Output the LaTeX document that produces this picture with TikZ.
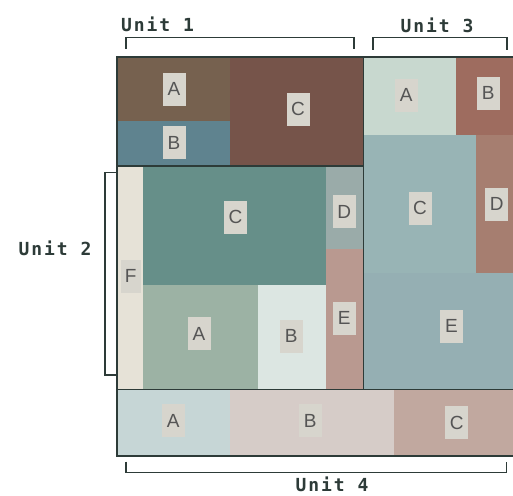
\documentclass[tikz,border=0pt]{standalone}
\usepackage{fontspec}
\setmainfont{Liberation Sans}
\newfontfamily\unitfont[LetterSpace=11]{DejaVu Sans Mono}
\usetikzlibrary{positioning}
\definecolor{frameline}{HTML}{2D3B38}
\definecolor{lblbox}{HTML}{D7D5CD}
\definecolor{lbltext}{HTML}{555555}
% unit 1
\definecolor{uoneA}{HTML}{76614F}
\definecolor{uoneB}{HTML}{5F838F}
\definecolor{uoneC}{HTML}{76544A}
% unit 2
\definecolor{utwoA}{HTML}{9CB2A4}
\definecolor{utwoB}{HTML}{DCE6E2}
\definecolor{utwoC}{HTML}{668F89}
\definecolor{utwoD}{HTML}{9AABA9}
\definecolor{utwoE}{HTML}{B99990}
\definecolor{utwoF}{HTML}{E6E2D7}
% unit 3
\definecolor{uthreeA}{HTML}{C8D8CF}
\definecolor{uthreeB}{HTML}{9E6C5F}
\definecolor{uthreeC}{HTML}{98B4B5}
\definecolor{uthreeD}{HTML}{A67E70}
\definecolor{uthreeE}{HTML}{95AFB3}
% unit 4
\definecolor{ufourA}{HTML}{C6D6D6}
\definecolor{ufourB}{HTML}{D6CCC8}
\definecolor{ufourC}{HTML}{C1A89F}

\begin{document}
\begin{tikzpicture}[x=1pt, y=-1pt,
    lbl/.style={fill=lblbox, text=lbltext, font=\fontsize{19}{19}\selectfont, inner sep=0pt,
      minimum width=23pt, minimum height=33pt, text height=13.6pt, text depth=0pt},
    unitlbl/.style={text=frameline, font=\unitfont\bfseries\fontsize{18}{18}\selectfont, inner sep=0pt},
    unitbox/.style={draw=frameline, line width=1.5pt},
    brack/.style={draw=frameline, line width=1.5pt}]
    \useasboundingbox (0,0) rectangle (513,495);
    \begin{scope}
    \clip (0,0) rectangle (513,495);
    % Unit 1
    \fill[uoneA] (117,57) rectangle (229.5,121);
    \fill[uoneB] (117,121) rectangle (229.5,166);
    \fill[uoneC] (229.5,57) rectangle (363.5,166);
    % Unit 2
    \fill[utwoF] (117,166) rectangle (143,389.5);
    \fill[utwoC] (143,166) rectangle (326,284.5);
    \fill[utwoA] (143,284.5) rectangle (257.5,389.5);
    \fill[utwoB] (257.5,284.5) rectangle (326,389.5);
    \fill[utwoD] (326,166) rectangle (363.5,248.5);
    \fill[utwoE] (326,248.5) rectangle (363.5,389.5);
    % Unit 3
    \fill[uthreeA] (363.5,57) rectangle (456,135);
    \fill[uthreeB] (456,57) rectangle (520,135);
    \fill[uthreeC] (363.5,135) rectangle (476,273);
    \fill[uthreeD] (476,135) rectangle (520,273);
    \fill[uthreeE] (363.5,273) rectangle (520,389.5);
    % Unit 4
    \fill[ufourA] (117,389.5) rectangle (229.5,456);
    \fill[ufourB] (229.5,389.5) rectangle (394,456);
    \fill[ufourC] (394,389.5) rectangle (520,456);
    % unit borders
    \draw[unitbox] (117,57) rectangle (363.5,166);
    \draw[unitbox] (117,166) rectangle (363.5,389.5);
    \draw[unitbox] (363.5,57) rectangle (520,389.5);
    \draw[unitbox] (117,389.5) rectangle (520,456);
    \end{scope}
    % cell labels
    \node[lbl] (oneA) at (174,89) {A};
    \node[lbl] (oneB) at (174,142.5) {B};
    \node[lbl] (oneC) at (298,109) {C};
    \node[lbl, minimum width=20pt] (twoF) at (130.7,276) {F};
    \node[lbl] (twoC) at (235.5,217) {C};
    \node[lbl] (twoD) at (344.2,211.7) {D};
    \node[lbl] (twoA) at (199,333.7) {A};
    \node[lbl] (twoB) at (291.3,336) {B};
    \node[lbl] (twoE) at (344.2,318) {E};
    \node[lbl] (threeA) at (406.3,95) {A};
    \node[lbl] (threeB) at (488.3,93) {B};
    \node[lbl] (threeC) at (420,208) {C};
    \node[lbl] (threeD) at (496.7,204) {D};
    \node[lbl] (threeE) at (451.5,326) {E};
    \node[lbl] (fourA) at (173.3,420.8) {A};
    \node[lbl] (fourB) at (310.3,420.8) {B};
    \node[lbl] (fourC) at (456.8,422.7) {C};
    % brackets and unit names
    \draw[brack] (126,49) -- (126,37.5) -- (354,37.5) -- (354,49);
    \node[unitlbl] (unitone) at (157.5,24) {Unit 1};
    \draw[brack] (373,50) -- (373,37.5) -- (507,37.5) -- (507,50);
    \node[unitlbl] (unitthree) at (437,25) {Unit 3};
    \draw[brack] (117,172.7) -- (105,172.7) -- (105,375) -- (117,375);
    \node[unitlbl] (unittwo) at (55,248) {Unit 2};
    \draw[brack] (126,461.7) -- (126,472.7) -- (506.7,472.7) -- (506.7,461.7);
    \node[unitlbl] (unitfour) at (332,484.5) {Unit 4};
\end{tikzpicture}
\end{document}
